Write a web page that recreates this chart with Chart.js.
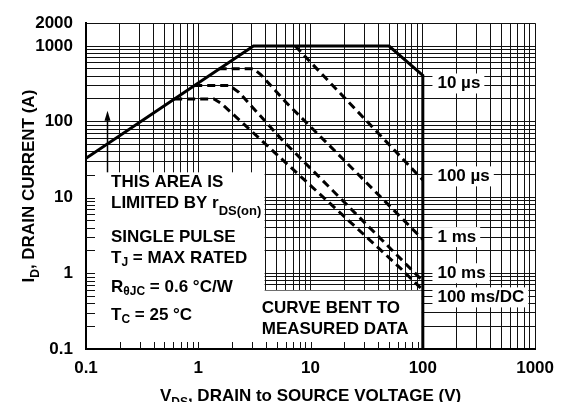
<!DOCTYPE html>
<html>
<head>
<meta charset="utf-8">
<script src="https://cdn.jsdelivr.net/npm/chart.js@4.4.0/dist/chart.umd.min.js"></script>
<style>
  html, body { margin: 0; padding: 0; background: #fff; }
</style>
</head>
<body>
<canvas id="soaChart" width="563" height="402"></canvas>
<script>
// tick labels
const xTickLabels = [0.1, 1, 10, 100, 1000];
const yTickLabels = [0.1, 1, 10, 100, 1000, 2000];

// 10 us / rDS(on) limit (solid)
const limitV = [0.1, 3.1, 50, 100, 100];
const limitI = [33, 1000, 1000, 410, 0.1];
// 100 us
const us100V = [7.3, 9, 30, 100];
const us100I = [1000, 720, 111, 17];
// 1 ms
const ms1V = [1.52, 3.1, 3.6, 6.1, 16.8, 100];
const ms1I = [500, 500, 420, 178, 40, 2.8];
// 10 ms
const ms10V = [0.92, 1.9, 2.3, 5.5, 100];
const ms10I = [300, 300, 245, 59, 0.79];
// 100 ms / DC
const dcV = [0.61, 1.38, 1.6, 4.2, 63, 100];
const dcI = [200, 200, 175, 47, 1.17, 0.6];

// curve labels at the right edge
const curveLabels = ["10 \u00b5s", "100 \u00b5s", "1 ms", "10 ms", "100 ms/DC"];
const curveLabelI = [320, 19, 3.0, 1.0, 0.48];
const curveLabelV = 135;

// arrow under the rDS(on) line
const arrowV = 0.153;
const arrowI = [21.5, 140];

const FONT = "'Liberation Sans', Arial, sans-serif";
const BIG = "bold 17px " + FONT;
const SMALL = "bold 12px " + FONT;

function gridValues(lo, hi, extra) {
  const out = [];
  for (let d = lo; d < hi; d *= 10) {
    for (let k = 1; k <= 9; k++) out.push(+(d * k).toPrecision(3));
  }
  out.push(hi);
  return out.concat(extra || []);
}
const xGrid = gridValues(0.1, 1000);
const yGrid = gridValues(0.1, 1000, [2000]);

function pts(vs, is) {
  return vs.map((v, i) => ({ x: v, y: is[i] }));
}

function drawRich(ctx, parts, x, y, align) {
  let w = 0;
  parts.forEach(p => {
    ctx.font = p[1] ? SMALL : BIG;
    w += ctx.measureText(p[0]).width;
  });
  let cx = align === "center" ? x - w / 2 : x;
  ctx.textAlign = "left";
  parts.forEach(p => {
    ctx.font = p[1] ? SMALL : BIG;
    ctx.fillText(p[0], cx, y + (p[1] ? 5 : 0));
    cx += ctx.measureText(p[0]).width;
  });
  return w;
}

const decorPlugin = {
  id: "decor",
  beforeDatasetsDraw(chart) {
    const ctx = chart.ctx;
    const xs = chart.scales.x, ys = chart.scales.y;
    const a = chart.chartArea;
    ctx.save();
    ctx.fillStyle = "#fff";
    // left text box
    const lbRight = xs.getPixelForValue(3.9);
    const lbTop = ys.getPixelForValue(21.5);
    ctx.fillRect(a.left + 1, lbTop, lbRight - a.left - 1, a.bottom - lbTop - 1);
    // "curve bent" box
    const cbLeft = xs.getPixelForValue(3.6);
    const cbRight = xs.getPixelForValue(98);
    const cbTop = ys.getPixelForValue(0.59);
    ctx.fillRect(cbLeft, cbTop, cbRight - cbLeft, a.bottom - cbTop - 1);
    // short edge ticks inside boxes
    ctx.strokeStyle = "#111";
    ctx.lineWidth = 1;
    ctx.beginPath();
    yGrid.forEach(v => {
      const py = Math.round(ys.getPixelForValue(v)) + 0.5;
      if (py > lbTop + 2 && py < a.bottom - 2) {
        ctx.moveTo(a.left, py); ctx.lineTo(a.left + 9, py);
      }
    });
    xGrid.forEach(v => {
      const px = Math.round(xs.getPixelForValue(v)) + 0.5;
      if ((px > a.left + 2 && px < lbRight) || (px > cbLeft && px < cbRight)) {
        ctx.moveTo(px, a.bottom); ctx.lineTo(px, a.bottom - 7);
      }
    });
    ctx.stroke();
    // white boxes behind right labels
    ctx.font = BIG;
    const lx = xs.getPixelForValue(curveLabelV);
    curveLabels.forEach((t, i) => {
      const py = ys.getPixelForValue(curveLabelI[i]);
      const w = ctx.measureText(t).width;
      ctx.fillStyle = "#fff";
      ctx.fillRect(lx - 5, py - 10, w + 9, 20);
    });
    ctx.restore();
  },
  afterDatasetsDraw(chart) {
    const ctx = chart.ctx;
    const xs = chart.scales.x, ys = chart.scales.y;
    const a = chart.chartArea;
    ctx.save();
    ctx.fillStyle = "#000";
    ctx.textBaseline = "middle";
    // right labels
    ctx.font = BIG;
    const lx = xs.getPixelForValue(curveLabelV);
    curveLabels.forEach((t, i) => {
      ctx.textAlign = "left";
      ctx.fillText(t, lx, ys.getPixelForValue(curveLabelI[i]));
    });
    // left box text
    const tx = a.left + 25;
    drawRich(ctx, [["THIS AREA IS", 0]], tx, 182);
    drawRich(ctx, [["LIMITED BY r", 0]], tx, 203);
    ctx.font = BIG;
    const rw = ctx.measureText("LIMITED BY r").width;
    ctx.font = "bold 13px " + FONT;
    ctx.fillText("DS(on)", tx + rw, 211);
    drawRich(ctx, [["SINGLE PULSE", 0]], tx, 237);
    drawRich(ctx, [["T", 0], ["J", 1], [" = MAX RATED", 0]], tx, 258);
    drawRich(ctx, [["R", 0], ["\u03b8JC", 1], [" = 0.6 \u00b0C/W", 0]], tx, 287);
    drawRich(ctx, [["T", 0], ["C", 1], [" = 25 \u00b0C", 0]], tx, 315);
    // curve bent box text
    const cx = xs.getPixelForValue(3.6) + 1;
    drawRich(ctx, [["CURVE BENT TO", 0]], cx, 308);
    drawRich(ctx, [["MEASURED DATA", 0]], cx, 329);
    // arrow
    const ax = Math.round(xs.getPixelForValue(arrowV)) + 0.5;
    const ay0 = ys.getPixelForValue(arrowI[0]);
    const ay1 = ys.getPixelForValue(arrowI[1]);
    ctx.strokeStyle = "#000";
    ctx.lineWidth = 1.5;
    ctx.beginPath();
    ctx.moveTo(ax, ay0); ctx.lineTo(ax, ay1 + 6);
    ctx.stroke();
    ctx.beginPath();
    ctx.moveTo(ax, ay1); ctx.lineTo(ax - 3, ay1 + 10); ctx.lineTo(ax + 3, ay1 + 10);
    ctx.closePath();
    ctx.fill();
    ctx.restore();
  },
  afterDraw(chart) {
    const ctx = chart.ctx;
    const a = chart.chartArea;
    ctx.save();
    ctx.fillStyle = "#000";
    ctx.textBaseline = "alphabetic";
    // x title
    drawRich(ctx, [["V", 0], ["DS", 1], [", DRAIN to SOURCE VOLTAGE (V)", 0]],
      (a.left + a.right) / 2, 401, "center");
    // y title
    ctx.translate(34, (a.top + a.bottom) / 2);
    ctx.rotate(-Math.PI / 2);
    drawRich(ctx, [["I", 0], ["D", 1], [", DRAIN CURRENT (A)", 0]], 0, 0, "center");
    ctx.restore();
  }
};

const tickFont = { family: FONT, size: 17, weight: "bold" };
const dashed = { borderColor: "#000", borderWidth: 3, borderDash: [8, 5], pointRadius: 0, fill: false, tension: 0 };

new Chart(document.getElementById("soaChart").getContext("2d"), {
  type: "line",
  data: {
    datasets: [
      { label: "10 \u00b5s", data: pts(limitV, limitI), borderColor: "#000", borderWidth: 3, pointRadius: 0, fill: false },
      Object.assign({ label: "100 \u00b5s", data: pts(us100V, us100I) }, dashed),
      Object.assign({ label: "1 ms", data: pts(ms1V, ms1I) }, dashed),
      Object.assign({ label: "10 ms", data: pts(ms10V, ms10I) }, dashed),
      Object.assign({ label: "100 ms/DC", data: pts(dcV, dcI) }, dashed)
    ]
  },
  options: {
    responsive: false,
    animation: false,
    layout: { padding: { top: 16, right: 24, left: 0, bottom: 0 } },
    plugins: { legend: { display: false }, tooltip: { enabled: false } },
    scales: {
      x: {
        type: "logarithmic",
        min: 0.1,
        max: 1000,
        afterBuildTicks: s => { s.ticks = xGrid.map(v => ({ value: v })); },
        afterFit: s => { s.height = 53; },
        grid: { color: "#111", lineWidth: 1, drawTicks: false },
        border: { color: "#000", width: 2 },
        ticks: {
          autoSkip: false, maxRotation: 0, padding: 9, color: "#000", font: tickFont,
          callback: v => xTickLabels.includes(v) ? String(v) : ""
        }
      },
      y: {
        type: "logarithmic",
        min: 0.1,
        max: 2000,
        afterBuildTicks: s => { s.ticks = yGrid.map(v => ({ value: v })); },
        afterFit: s => { s.width = 86; },
        grid: { color: "#111", lineWidth: 1, drawTicks: false },
        border: { color: "#000", width: 2 },
        ticks: {
          autoSkip: false, padding: 13, color: "#000", font: tickFont,
          callback: v => yTickLabels.includes(v) ? String(v) : ""
        }
      }
    }
  },
  plugins: [decorPlugin]
});
</script>
</body>
</html>
